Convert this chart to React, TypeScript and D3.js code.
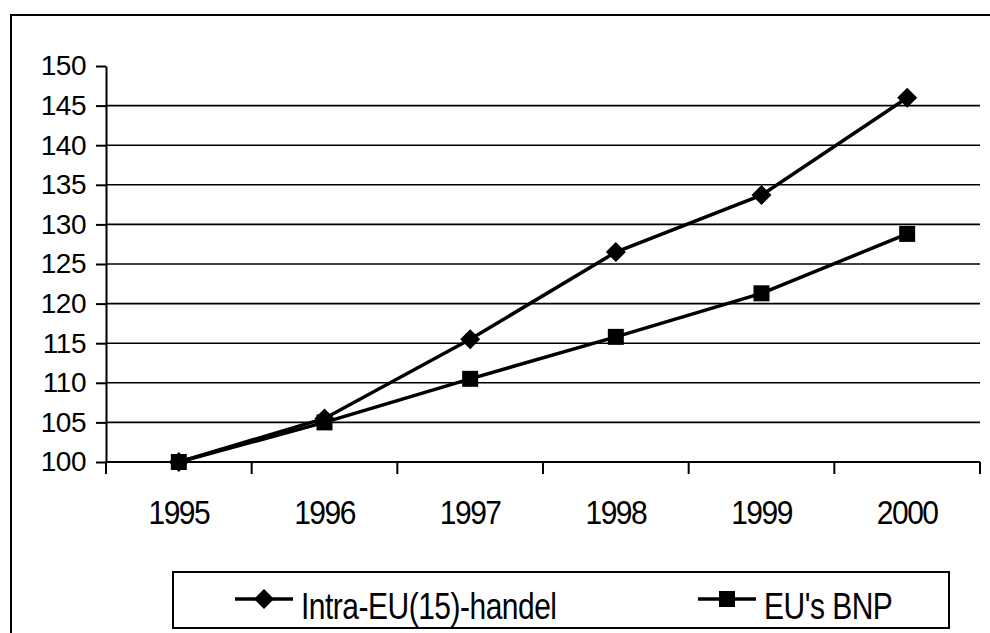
import React, { useRef, useEffect } from 'react';
import * as d3 from 'd3';

// Index 1995 = 100
const years = ['1995', '1996', '1997', '1998', '1999', '2000'];
const intraEU = [100, 105.5, 115.5, 126.5, 133.7, 146];
const euBNP = [100, 105, 110.5, 115.8, 121.3, 128.8];
const yTicks = [100, 105, 110, 115, 120, 125, 130, 135, 140, 145, 150];
const seriesNames = ['Intra-EU(15)-handel', "EU's BNP"];

const App = () => {
    const svgRef = useRef(null);
    const svg_width = 990;
    const svg_height = 633;
    // plot area: x 106..980, y 66..465
    const margin = { top: 66, right: 10, bottom: 168, left: 106 };
    const plotRight = svg_width - margin.right;
    const plotBottom = svg_height - margin.bottom + 0;

    useEffect(() => {
        const svg = d3.select(svgRef.current);
        svg.selectAll('*').remove();
        const font = 'Arial, "Liberation Sans", sans-serif';

        // outer frame (right and bottom edges fall off the page)
        svg.append('rect')
            .attr('x', 11).attr('y', 15)
            .attr('width', 1000).attr('height', 640)
            .attr('fill', 'none').attr('stroke', '#000').attr('stroke-width', 2);

        // scales
        const x = d3.scaleBand().domain(years).range([margin.left, plotRight]);
        const y = d3.scaleLinear().domain([100, 150]).range([plotBottom - 3, margin.top]);
        const cx = (i) => x(years[i]) + x.bandwidth() / 2;

        // gridlines (105..145)
        svg.append('g').selectAll('line')
            .data(yTicks.filter(t => t > 100 && t < 150))
            .enter().append('line')
            .attr('x1', margin.left).attr('x2', plotRight)
            .attr('y1', d => y(d)).attr('y2', d => y(d))
            .attr('stroke', '#000').attr('stroke-width', 1.6);

        // y axis
        const yAxis = d3.axisLeft(y).tickValues(yTicks).tickSize(10).tickSizeOuter(0).tickPadding(10);
        const yg = svg.append('g').attr('transform', `translate(${margin.left},0)`).call(yAxis);
        yg.selectAll('path, line').attr('stroke', '#000').attr('stroke-width', 2);
        yg.selectAll('text')
            .attr('font-family', font).attr('font-size', 28).attr('fill', '#000')
            .attr('letter-spacing', -0.5);

        // x axis: line, ticks on category boundaries, labels in the middle
        const xg = svg.append('g');
        xg.append('line')
            .attr('x1', margin.left).attr('x2', plotRight)
            .attr('y1', y(100)).attr('y2', y(100))
            .attr('stroke', '#000').attr('stroke-width', 2);
        xg.selectAll('.xtick')
            .data([...years.map(d => x(d)), plotRight])
            .enter().append('line')
            .attr('class', 'xtick')
            .attr('x1', d => d).attr('x2', d => d)
            .attr('y1', y(100)).attr('y2', y(100) + 12)
            .attr('stroke', '#000').attr('stroke-width', 2);
        xg.selectAll('.xlabel')
            .data(years)
            .enter().append('text')
            .attr('class', 'xlabel')
            .attr('transform', (d, i) => `translate(${cx(i)},${y(100) + 62}) scale(1,1.1)`)
            .attr('text-anchor', 'middle')
            .attr('font-family', font).attr('font-size', 30).attr('letter-spacing', -1.5)
            .text(d => d);

        // lines
        const line = d3.line().x((d, i) => cx(i)).y(d => y(d));
        [intraEU, euBNP].forEach(series => {
            svg.append('path')
                .datum(series)
                .attr('d', line)
                .attr('fill', 'none').attr('stroke', '#000').attr('stroke-width', 3.5);
        });

        // markers
        const diamond = d3.symbol(d3.symbolSquare, 200)();
        const square = d3.symbol(d3.symbolSquare, 256)();
        svg.append('g').selectAll('path')
            .data(intraEU)
            .enter().append('path')
            .attr('d', diamond)
            .attr('transform', (d, i) => `translate(${cx(i)},${y(d)}) rotate(45)`)
            .attr('fill', '#000');
        svg.append('g').selectAll('path')
            .data(euBNP)
            .enter().append('path')
            .attr('d', square)
            .attr('transform', (d, i) => `translate(${cx(i)},${y(d)})`)
            .attr('fill', '#000');

        // legend
        const legend = svg.append('g');
        legend.append('rect')
            .attr('x', 173).attr('y', 572).attr('width', 776).attr('height', 56)
            .attr('fill', '#fff').attr('stroke', '#000').attr('stroke-width', 2);
        const items = [
            { name: seriesNames[0], x0: 235, marker: diamond, rot: 45 },
            { name: seriesNames[1], x0: 698, marker: square, rot: 0 },
        ];
        items.forEach(it => {
            legend.append('line')
                .attr('x1', it.x0).attr('x2', it.x0 + 58)
                .attr('y1', 599).attr('y2', 599)
                .attr('stroke', '#000').attr('stroke-width', 3.5);
            legend.append('path')
                .attr('d', it.marker)
                .attr('transform', `translate(${it.x0 + 29},599) rotate(${it.rot})`)
                .attr('fill', '#000');
            legend.append('text')
                .attr('transform', `translate(${it.x0 + 66},619) scale(1,1.2)`)
                .attr('font-family', font).attr('font-size', 30).attr('letter-spacing', -0.5)
                .text(it.name);
        });
    // eslint-disable-next-line
    }, []);

    return (
        <svg ref={svgRef} width={svg_width} height={svg_height}
            style={{ position: 'absolute', left: 0, top: 0, background: '#fff' }} />
    );
};

export default App;
